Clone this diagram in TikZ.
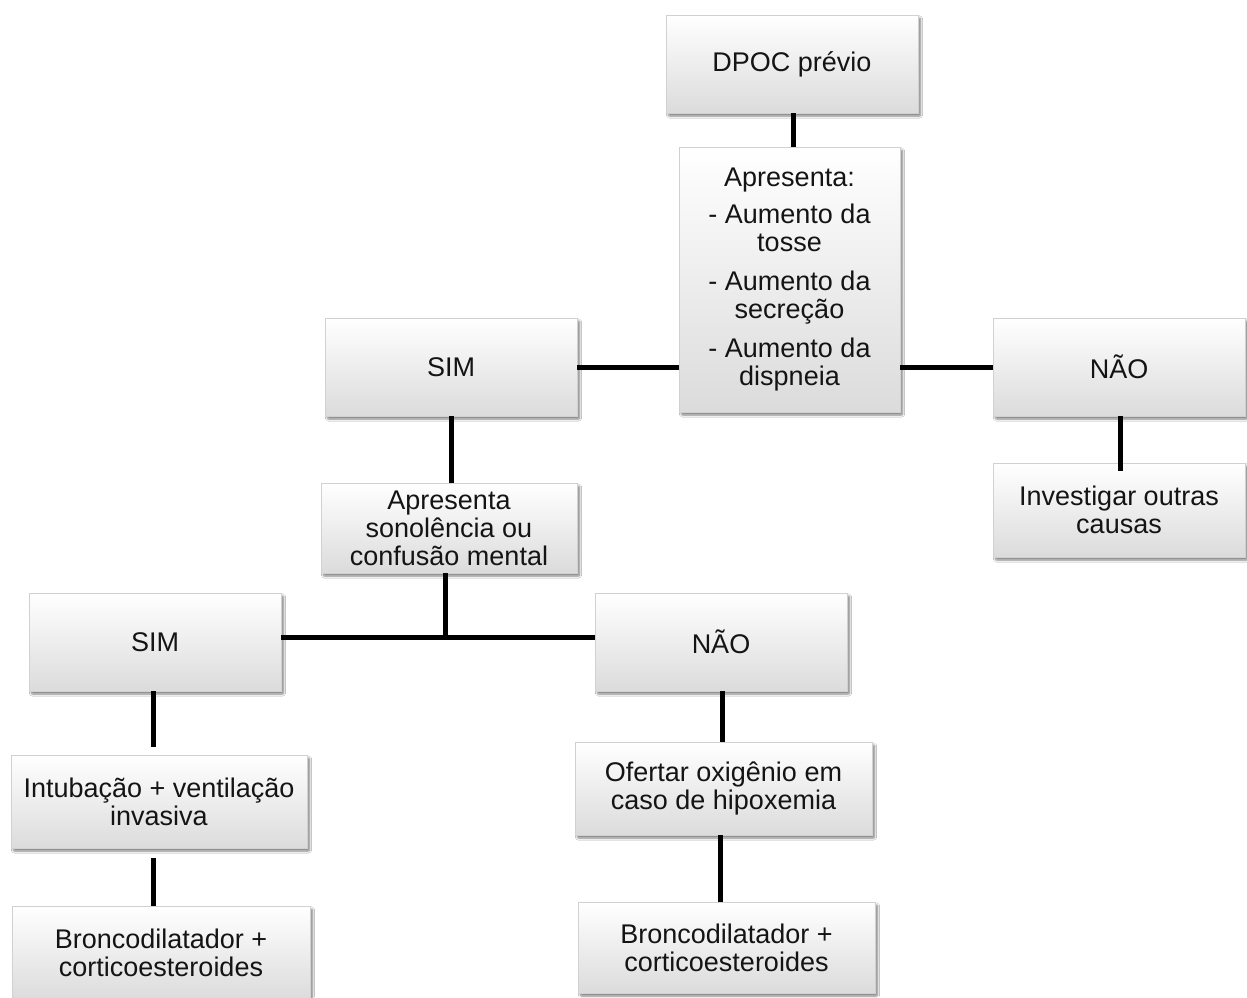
\documentclass[tikz,border=0pt]{standalone}
\usepackage{fontspec}
\setmainfont{Liberation Sans}
\usetikzlibrary{shadows.blur}
\begin{document}
\begin{tikzpicture}[x=1pt,y=-1pt,
  card/.style={rectangle, inner sep=0pt, align=center,
    top color=white, bottom color=black!14, draw=black!18, line width=0.6pt,
    text=black!92, font=\fontsize{27}{28}\selectfont,
    blur shadow={shadow xshift=2.5pt, shadow yshift=-3pt, shadow blur steps=6,
                 shadow blur extra rounding=1pt, shadow opacity=50}},
  link/.style={line width=5pt, black}]
\useasboundingbox[fill=white] (0,0) rectangle (1247,997);

% boxes
\node[card, minimum width=252pt, minimum height=98pt] (dpoc) at (792,64) {DPOC prévio};
\node[card, minimum width=221pt, minimum height=265pt] (sint) at (789.5,279.5)
  {Apresenta:\\[9pt] - Aumento da\\ tosse\\[11pt] - Aumento da\\ secreção\\[11pt] - Aumento da\\ dispneia};
\node[card, minimum width=252pt, minimum height=98pt] (sim1) at (451,367) {SIM};
\node[card, minimum width=252pt, minimum height=98pt] (nao1) at (1119,367) {NÃO};
\node[card, minimum width=252pt, minimum height=94pt] (invest) at (1119,510) {Investigar outras\\causas};
\node[card, minimum width=256pt, minimum height=90pt] (sono) at (449,528) {Apresenta\\sonolência ou\\confusão mental};
\node[card, minimum width=252pt, minimum height=98pt] (sim2) at (155,642) {SIM};
\node[card, minimum width=252pt, minimum height=98pt] (nao2) at (721,642) {NÃO};
\node[card, minimum width=296pt, minimum height=93pt] (intub) at (159,801.5) {Intubação + ventilação\\invasiva};
\node[card, minimum width=297pt, minimum height=93pt] (oxi) at (723.5,788.5) {Ofertar oxigênio em\\caso de hipoxemia};
\node[card, minimum width=298pt, minimum height=94pt] (bron1) at (161,953) {Broncodilatador +\\corticoesteroides};
\node[card, minimum width=297pt, minimum height=91pt] (bron2) at (726.5,947.5) {Broncodilatador +\\corticoesteroides};

% junction below the drowsiness question
\coordinate (fork) at (445,637);

% connectors
\draw[link] (dpoc.south -| 793,0) -- (sint.north -| 793,0);
\draw[link] (sim1.east) -- (sint.west |- sim1.east);
\draw[link] (sint.east |- nao1.west) -- (nao1.west);
\draw[link] (nao1.south -| 1120,0) -- ([yshift=-8pt]invest.north -| 1120,0);
\draw[link] (sim1.south) -- (sono.north -| sim1.south);
\draw[link] (sono.south -| fork) -- (fork);
\draw[link] (sim2.east |- fork) -- (nao2.west |- fork);
\draw[link] (sim2.south -| 153,0) -- ([yshift=8pt]intub.north -| 153,0);
\draw[link] ([yshift=-10pt]intub.south -| 153,0) -- (bron1.north -| 153,0);
\draw[link] (nao2.south -| 722,0) -- (oxi.north -| 722,0);
\draw[link] (oxi.south -| 720,0) -- (bron2.north -| 720,0);
\end{tikzpicture}
\end{document}
